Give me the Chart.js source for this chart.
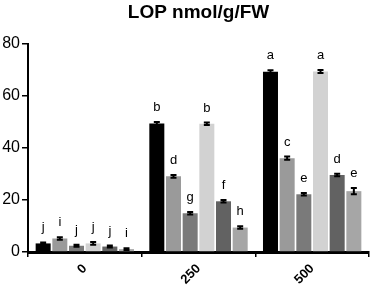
<!DOCTYPE html>
<html lang="en">
<head>
    <meta charset="UTF-8">
    <title>LOP nmol/g/FW</title>
    <script src="https://cdn.jsdelivr.net/npm/chart.js"></script>
    <style>
        html, body { margin: 0; padding: 0; background: white; }
        .chart-box { position: relative; width: 371px; height: 290px; }
    </style>
</head>
<body>
    <div class="chart-box">
        <canvas id="lopChart"></canvas>
    </div>

    <script>
        // Doses on the x axis
        const categories = ['0', '250', '500'];

        // Mean values for the six treatments
        const series1 = [3.3, 49.4, 69.3];
        const series2 = [5.2, 29.1, 36.1];
        const series3 = [2.4, 14.9, 22.2];
        const series4 = [3.3, 49.3, 69.4];
        const series5 = [2.1, 19.5, 29.6];
        const series6 = [1.1, 9.4, 23.4];

        // Error bars (SE)
        const err1 = [0.4, 0.6, 0.6];
        const err2 = [0.5, 0.5, 0.6];
        const err3 = [0.4, 0.5, 0.5];
        const err4 = [0.5, 0.5, 0.6];
        const err5 = [0.4, 0.5, 0.5];
        const err6 = [0.3, 0.5, 1.2];

        // Significance letters
        const letters1 = ['j', 'b', 'a'];
        const letters2 = ['i', 'd', 'c'];
        const letters3 = ['j', 'g', 'e'];
        const letters4 = ['j', 'b', 'a'];
        const letters5 = ['j', 'f', 'd'];
        const letters6 = ['i', 'h', 'e'];

        const yTicks = [0, 20, 40, 60, 80];

        const colors = ['#000000', '#9a9a9a', '#7a7a7a', '#d2d2d2', '#626262', '#a6a6a6'];
        const allValues = [series1, series2, series3, series4, series5, series6];
        const allErrors = [err1, err2, err3, err4, err5, err6];
        const allLetters = [letters1, letters2, letters3, letters4, letters5, letters6];

        const FONT = '"Liberation Sans", Arial, Helvetica, sans-serif';

        // error bars, letters and title drawn on top of the bars
        const extrasPlugin = {
            id: 'extras',
            afterDatasetsDraw(chart) {
                const ctx = chart.ctx;
                const y = chart.scales.y;
                ctx.save();
                chart.data.datasets.forEach((ds, i) => {
                    const meta = chart.getDatasetMeta(i);
                    meta.data.forEach((bar, j) => {
                        const v = ds.data[j];
                        const e = allErrors[i][j];
                        const yTop = y.getPixelForValue(v + e);
                        const yBot = y.getPixelForValue(v - e);
                        const x = bar.x;
                        ctx.strokeStyle = '#000';
                        ctx.lineWidth = 2;
                        ctx.beginPath();
                        ctx.moveTo(x, yTop);
                        ctx.lineTo(x, yBot);
                        ctx.moveTo(x - 3, yTop);
                        ctx.lineTo(x + 3, yTop);
                        ctx.moveTo(x - 3, yBot);
                        ctx.lineTo(x + 3, yBot);
                        ctx.stroke();

                        ctx.fillStyle = '#000';
                        ctx.font = '13px ' + FONT;
                        ctx.textAlign = 'center';
                        ctx.textBaseline = 'alphabetic';
                        ctx.fillText(allLetters[i][j], x, yTop - 11);
                    });
                });
                // title centred over the plot area
                const area = chart.chartArea;
                ctx.font = 'bold 19px ' + FONT;
                ctx.textAlign = 'center';
                ctx.fillText('LOP nmol/g/FW', (area.left + area.right) / 2, 18);
                ctx.restore();
            }
        };

        const ctx = document.getElementById('lopChart').getContext('2d');
        new Chart(ctx, {
            type: 'bar',
            data: {
                labels: categories,
                datasets: allValues.map((vals, i) => ({
                    label: 'S' + (i + 1),
                    data: vals,
                    backgroundColor: colors[i],
                    borderWidth: 0,
                    barPercentage: 0.9,
                    categoryPercentage: 0.88
                }))
            },
            options: {
                responsive: true,
                maintainAspectRatio: false,
                animation: false,
                layout: { padding: { top: 44, right: 2, left: 0, bottom: 0 } },
                plugins: {
                    legend: { display: false },
                    title: { display: false },
                    tooltip: { enabled: false }
                },
                scales: {
                    x: {
                        grid: { drawOnChartArea: false, color: '#000', lineWidth: 1.5, tickLength: 5 },
                        border: { color: '#000', width: 3 },
                        ticks: {
                            color: '#000',
                            font: { family: FONT, size: 13, weight: 'bold' },
                            minRotation: 45,
                            maxRotation: 45,
                            padding: 4
                        },
                        afterFit(scale) { scale.height = 38; }
                    },
                    y: {
                        min: 0,
                        max: 80,
                        afterBuildTicks(scale) { scale.ticks = yTicks.map(v => ({ value: v })); },
                        grid: { drawOnChartArea: false, color: '#000', lineWidth: 1.5, tickLength: 6 },
                        border: { color: '#000', width: 2 },
                        ticks: {
                            color: '#000',
                            font: { family: FONT, size: 16 },
                            padding: 2
                        },
                        afterFit(scale) { scale.width = 28; }
                    }
                }
            },
            plugins: [extrasPlugin]
        });
    </script>
</body>
</html>
